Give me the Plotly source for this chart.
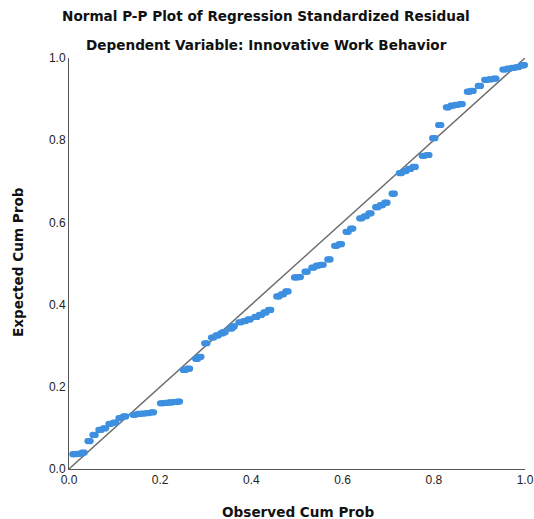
import plotly.graph_objects as go

# Observed cumulative probability (x) and expected cumulative probability (y)
observed_cum_prob = [
    0.011, 0.021, 0.031, 0.044, 0.055, 0.068, 0.078, 0.090, 0.100, 0.112, 0.122,
    0.143, 0.153, 0.163, 0.173, 0.183,
    0.203, 0.213, 0.223, 0.233, 0.240,
    0.253, 0.262, 0.280, 0.287, 0.300,
    0.315, 0.325, 0.335, 0.340, 0.355, 0.360,
    0.375, 0.385, 0.395, 0.410, 0.420, 0.430, 0.440,
    0.458, 0.468, 0.478, 0.497, 0.505, 0.520,
    0.535, 0.545, 0.555, 0.570, 0.585, 0.595, 0.610, 0.620,
    0.640, 0.650, 0.660, 0.675, 0.685, 0.695, 0.711,
    0.727, 0.737, 0.747, 0.757, 0.777, 0.787, 0.800, 0.813,
    0.830, 0.840, 0.850, 0.860, 0.876, 0.884, 0.900,
    0.914, 0.924, 0.934, 0.954, 0.964, 0.974, 0.984, 0.994, 1.000,
]
expected_cum_prob = [
    0.036, 0.037, 0.040, 0.068, 0.083, 0.095, 0.099, 0.110, 0.113, 0.124, 0.128,
    0.132, 0.134, 0.135, 0.136, 0.138,
    0.160, 0.161, 0.162, 0.163, 0.164,
    0.241, 0.244, 0.268, 0.273, 0.306,
    0.320, 0.325, 0.330, 0.333, 0.342, 0.347,
    0.357, 0.360, 0.364, 0.370, 0.375, 0.381, 0.387,
    0.420, 0.425, 0.432, 0.466, 0.467, 0.480,
    0.490, 0.495, 0.497, 0.510, 0.543, 0.547, 0.577, 0.585,
    0.610, 0.615, 0.622, 0.637, 0.642, 0.648, 0.670,
    0.720, 0.725, 0.730, 0.735, 0.762, 0.764, 0.805, 0.837,
    0.880, 0.884, 0.886, 0.888, 0.918, 0.920, 0.932,
    0.947, 0.948, 0.950, 0.972, 0.974, 0.976, 0.978, 0.982, 0.983,
]
reference_line = [0.0, 1.0]
tick_vals = [0.0, 0.2, 0.4, 0.6, 0.8, 1.0]
tick_text = ["0.0", "0.2", "0.4", "0.6", "0.8", "1.0"]

title_font = "DejaVu Sans, sans-serif"
tick_font = "Liberation Sans, Arial, sans-serif"

W, H = 534, 519
L, R, T, B = 69, 9, 58, 50
pw, ph = W - L - R, H - T - B
# small horizontal offset (in axis units) used to draw the markers as
# horizontally stretched ellipses, like the SPSS point symbols
stretch = 1.6 / pw


def px_to_paper(px, py):
    return (px - L) / pw, (H - B - py) / ph


fig = go.Figure()
fig.add_trace(go.Scatter(
    x=reference_line, y=reference_line, mode="lines",
    line=dict(color="#6b6b6b", width=1.4), hoverinfo="skip", showlegend=False,
))
marker = dict(color="#3d8fe0", size=6.2, line=dict(width=0))
for xa in ["x", "x2", "x3"]:
    fig.add_trace(go.Scatter(
        x=observed_cum_prob, y=expected_cum_prob, mode="markers", xaxis=xa,
        marker=marker, cliponaxis=False, showlegend=False,
    ))

axis_common = dict(
    tickvals=tick_vals, ticktext=tick_text,
    showgrid=False, zeroline=False, showline=True, linecolor="#555555", linewidth=1,
    ticks="", tickfont=dict(family=tick_font, size=12, color="#222222"),
    automargin=False, ticklabeloverflow="allow",
)
hidden_axis = dict(overlaying="x", visible=False, showgrid=False, zeroline=False)

annots = []
for text, (px, py), angle in [
    ("<b>Normal P-P Plot of Regression Standardized Residual</b>", (266, 16), 0),
    ("<b>Dependent Variable: Innovative Work Behavior</b>", (266, 45), 0),
    ("<b>Observed Cum Prob</b>", (298, 512), 0),
    ("<b>Expected Cum Prob</b>", (18, 262), -90),
]:
    xp, yp = px_to_paper(px, py)
    annots.append(dict(
        text=text, x=xp, y=yp, xref="paper", yref="paper", showarrow=False,
        xanchor="center", yanchor="middle", textangle=angle,
        font=dict(family=title_font, size=13.6, color="#111111"),
    ))

fig.update_layout(
    width=W, height=H,
    margin=dict(l=L, r=R, t=T, b=B, autoexpand=False),
    paper_bgcolor="white", plot_bgcolor="white",
    font=dict(family=tick_font, size=12, color="#222222"),
    xaxis=dict(range=[0, 1], **axis_common),
    xaxis2=dict(range=[-stretch, 1 - stretch], **hidden_axis),
    xaxis3=dict(range=[stretch, 1 + stretch], **hidden_axis),
    yaxis=dict(range=[0, 1], **axis_common),
    annotations=annots,
)

fig.write_html(
    "out.html",
    config={"displayModeBar": False},
    post_script="document.body.style.margin='0';document.body.style.overflow='hidden';",
)
